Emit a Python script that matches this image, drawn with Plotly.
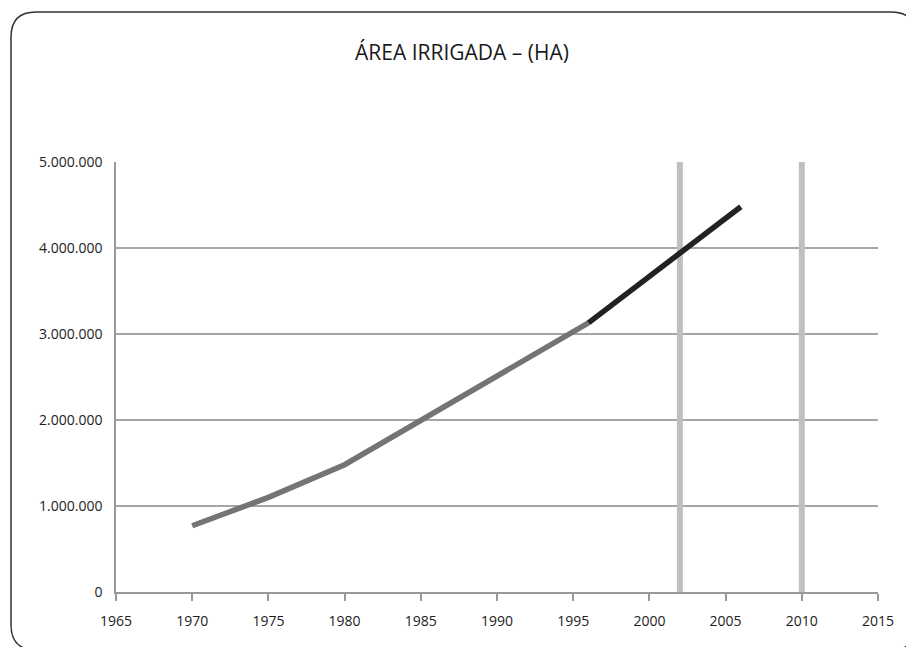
import plotly.graph_objects as go

# Irrigated area (hectares) by year
hist_years = [1970, 1975, 1980, 1985, 1990, 1995, 1996]
hist_area = [770000, 1100000, 1480000, 1990000, 2510000, 3010000, 3130000]
recent_years = [1996, 2006]
recent_area = [3130000, 4480000]

# Reference years marked with vertical bars
ref_years = [2002, 2010]

x_ticks = [1965, 1970, 1975, 1980, 1985, 1990, 1995, 2000, 2005, 2010, 2015]
y_ticks = [0, 1000000, 2000000, 3000000, 4000000, 5000000]
y_tick_text = ["0", "1.000.000", "2.000.000", "3.000.000", "4.000.000", "5.000.000"]

W, H = 906, 647
ML, MR, MT, MB = 116, 28, 162, 55

fig = go.Figure()

for yr in ref_years:
    fig.add_trace(go.Scatter(
        x=[yr, yr], y=[y_ticks[0], y_ticks[-1]], mode="lines",
        line=dict(color="#c0c0c0", width=6), hoverinfo="skip", showlegend=False,
    ))

fig.add_trace(go.Scatter(
    x=hist_years, y=hist_area, mode="lines",
    line=dict(color="#747474", width=5.5), showlegend=False,
))
fig.add_trace(go.Scatter(
    x=recent_years, y=recent_area, mode="lines",
    line=dict(color="#222222", width=5.5), showlegend=False,
))

# Rounded frame around the whole chart, given in pixels and converted to paper units
pw, ph = W - ML - MR, H - MT - MB


def px(x):
    return (x - ML) / pw


def py(y):
    return (H - MB - y) / ph


L, T, R, B, r = 11, 12, 916, 650, 25
path = (
    f"M {px(L)},{py(T + r)} Q {px(L)},{py(T)} {px(L + r)},{py(T)} "
    f"L {px(R - r)},{py(T)} Q {px(R)},{py(T)} {px(R)},{py(T + r)} "
    f"L {px(R)},{py(B - r)} Q {px(R)},{py(B)} {px(R - r)},{py(B)} "
    f"L {px(L + r)},{py(B)} Q {px(L)},{py(B)} {px(L)},{py(B - r)} Z"
)

fig.update_layout(
    width=W, height=H,
    margin=dict(l=ML, r=MR, t=MT, b=MB),
    paper_bgcolor="white", plot_bgcolor="white",
    font=dict(family="Open Sans", color="#222222"),
    title=dict(
        text="ÁREA IRRIGADA – (HA)", x=462 / W, xanchor="center",
        y=1 - 53 / H, yanchor="middle", yref="container",
        font=dict(family="Open Sans", size=21, color="#1a1a1a"),
    ),
    shapes=[dict(type="path", path=path, xref="paper", yref="paper",
                 line=dict(color="#333333", width=1.5), layer="below")],
    xaxis=dict(
        range=[1965, 2015], tickvals=x_ticks, ticktext=[str(t) for t in x_ticks],
        showgrid=False, zeroline=False, showline=True, linecolor="#999999", linewidth=1.5,
        ticks="outside", ticklen=7, tickcolor="#999999", tickwidth=1.5,
        ticklabelstandoff=8,
        tickfont=dict(size=14, color="#222222"),
    ),
    yaxis=dict(
        range=[0, 5000000], tickvals=y_ticks, ticktext=y_tick_text,
        showgrid=True, gridcolor="#a6a6a6", gridwidth=1.5, zeroline=False,
        showline=True, linecolor="#999999", linewidth=1.5,
        ticks="", ticklabelstandoff=9,
        tickfont=dict(size=14, color="#222222"),
    ),
)

fig.write_html("out.html")
